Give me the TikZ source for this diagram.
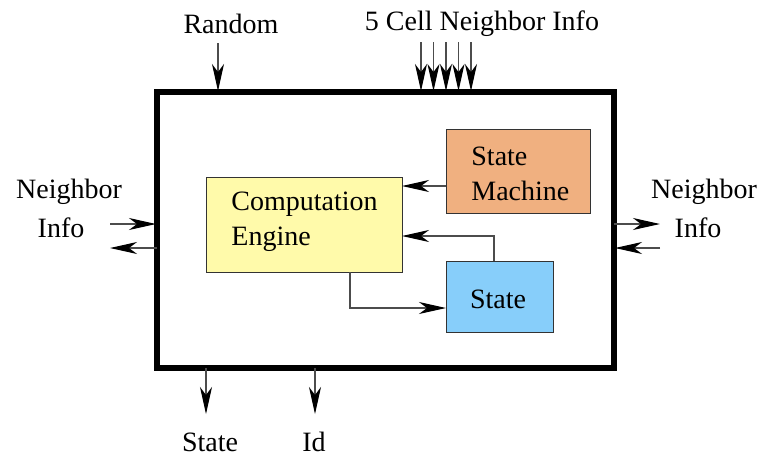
\documentclass[tikz,border=0pt]{standalone}
\usepackage{fontspec}
\setmainfont{Liberation Serif}
\usetikzlibrary{arrows.meta}
\begin{document}
\begin{tikzpicture}[x=0.5pt,y=-0.5pt,
  every node/.style={font=\fontsize{14}{17.5}\selectfont, inner sep=0pt},
  box/.style={draw=black!80, line width=0.5pt, inner sep=0pt},
  conn/.style={draw=black!70, line width=0.55pt, -{Stealth[length=13.5pt,width=6pt,inset=4pt,color=black]}},
  ]
\useasboundingbox (0,0) rectangle (762,457);
% outer box
\draw[line width=2.6pt] (157,92) rectangle (614,368);
\node[anchor=north west, minimum width=228.5pt, minimum height=138pt] (cell) at (157,92) {};
% inner boxes
\path[box, fill={rgb,255:red,255;green,250;blue,170}] (206,177) rectangle (402,272);
\node[anchor=north west, minimum width=98pt, minimum height=47.5pt] (ce) at (206,177) {};
\node[anchor=west, align=left] (cetext) at (231,222) {Computation\\Engine};
\path[box, fill={rgb,255:red,240;green,176;blue,128}] (446,129) rectangle (590,213);
\node[anchor=north west, minimum width=72pt, minimum height=42pt] (sm) at (446,129) {};
\node[anchor=west, align=left] (smtext) at (471,174) {State\\Machine};
\path[box, fill={rgb,255:red,135;green,206;blue,250}] (446,261) rectangle (553,332);
\node[anchor=north west, minimum width=53.5pt, minimum height=35.5pt] (st) at (446,261) {};
\node (sttext) at (498,299) {State};
% internal connectors
\coordinate (smout) at (446,186);
\coordinate (cein1) at (402,186);
\draw[conn] (smout) -- (cein1);
\coordinate (stout) at (494,261);
\coordinate (cein2) at (402,236);
\draw[conn] (stout) |- (cein2);
\coordinate (ceout) at (350,272);
\coordinate (stin) at (446,308);
\draw[conn] (ceout) |- (stin);
% top labels and arrows
\node (random) at (231,24) {Random};
\coordinate (rs) at (218,43);
\coordinate (re) at (218,91);
\draw[conn] (rs) -- (re);
\node (five) at (482,24) {5 Cell Neighbor Info};
\foreach \i/\xx in {1/421,2/433.5,3/446,4/458.5,5/471}{
  \coordinate (fs\i) at (\xx,42);
  \coordinate (fe\i) at (\xx,91);
  \draw[conn] (fs\i) -- (fe\i);
}
% left
\node (nl1) at (69,192) {Neighbor};
\node (nl2) at (61,228) {Info};
\coordinate (l1s) at (110,224);
\coordinate (l1e) at (156,224);
\draw[conn] (l1s) -- (l1e);
\coordinate (l2s) at (157,248);
\coordinate (l2e) at (110,248);
\draw[conn] (l2s) -- (l2e);
% right
\node (nr1) at (704,192) {Neighbor};
\node (nr2) at (698,228) {Info};
\coordinate (r1s) at (614,224);
\coordinate (r1e) at (660,224);
\draw[conn] (r1s) -- (r1e);
\coordinate (r2s) at (660,248);
\coordinate (r2e) at (615,248);
\draw[conn] (r2s) -- (r2e);
% bottom
\coordinate (b1s) at (206,368);
\coordinate (b1e) at (206,414);
\draw[conn] (b1s) -- (b1e);
\coordinate (b2s) at (315,368);
\coordinate (b2e) at (315,414);
\draw[conn] (b2s) -- (b2e);
\node (bstate) at (210,442) {State};
\node (bid) at (314,442) {Id};
\end{tikzpicture}
\end{document}
